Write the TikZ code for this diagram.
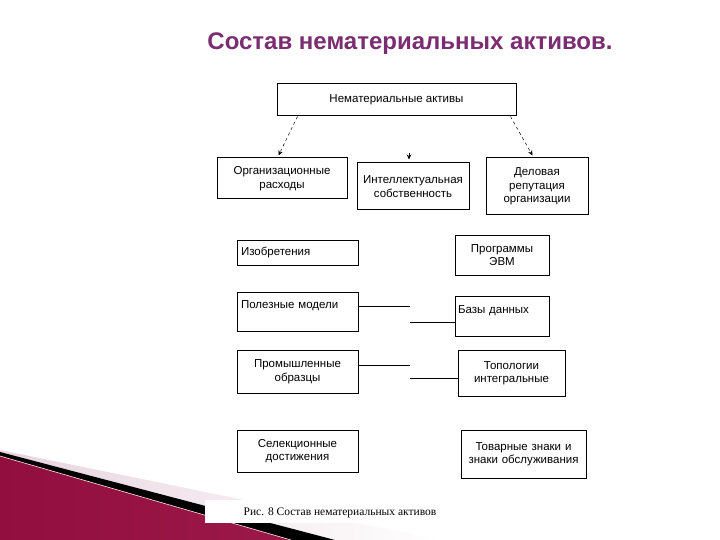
\documentclass[tikz,border=0pt]{standalone}
\usepackage{fontspec}
\setmainfont{Liberation Sans}
\newfontfamily\capfont{Liberation Serif}
\usetikzlibrary{arrows.meta}
\definecolor{titlepurple}{RGB}{122,45,112}
\definecolor{maroondark}{RGB}{145,14,62}
\definecolor{maroonlight}{RGB}{212,84,128}
\definecolor{paleband}{RGB}{232,212,222}

\begin{document}
\begin{tikzpicture}[x=1pt, y=-1pt,
            box/.style={rectangle, draw, line width=1pt, inner sep=2pt, text centered, font=\fontsize{11.5}{13.5}\selectfont},
            arrow/.style={-{Stealth[length=5pt,width=4.5pt]}, dashed, line width=0.5pt},
            link/.style={line width=0.7pt}
            ]
            \useasboundingbox (0,0) rectangle (720,540);
            \fill[white] (0,0) rectangle (720,540);
            
            % Decoration at the bottom left
            \shade[left color=paleband, right color=white] (0,450) -- (440,540) -- (0,540) -- cycle;
            \fill[black] (0,452) -- (335,540) -- (0,540) -- cycle;
            \shade[left color=maroondark, middle color=maroonlight, right color=maroondark!85!maroonlight] (0,456) -- (291,540) -- (0,540) -- cycle;
            \draw[pink!40, line width=0.6pt] (0,456) -- (291,540);
            
            % Title
            \node[font=\fontsize{24}{28}\selectfont\bfseries, text=titlepurple] (title) at (410,44) {Состав нематериальных активов.};
            
            % Main variable
            \node[box, minimum width=239pt, minimum height=32pt] (nma) at (396.5,100) {Нематериальные активы};
            
            % Second level
            \node[box, minimum width=130pt, minimum height=41pt, text width=126pt] (org) at (282,178.5) {Организационные\\расходы};
            \node[box, minimum width=112pt, minimum height=47pt, text width=108pt] (ip) at (413,186.5) {Интеллектуальная\\собственность};
            \node[box, minimum width=102pt, minimum height=57pt, text width=98pt] (rep) at (537,186.5) {Деловая\\репутация\\организации};
            
            % Left column
            \node[box, minimum width=121pt, minimum height=25pt, text width=113pt, align=left] (inv) at (297.5,252.5) {Изобретения};
            \node[box, minimum width=121pt, minimum height=39pt, text width=113pt, align=left] (pm) at (297.5,311.5) {Полезные модели\\\mbox{}};
            \node[box, minimum width=121pt, minimum height=43pt, text width=117pt] (prom) at (297.5,371.5) {Промышленные\\образцы};
            \node[box, minimum width=121pt, minimum height=42pt, text width=117pt] (sel) at (297.5,451) {Селекционные\\достижения};
            
            % Right column
            \node[box, minimum width=94pt, minimum height=40pt, text width=90pt] (prog) at (502,255) {Программы\\ЭВМ};
            \node[box, minimum width=94pt, minimum height=40pt, text width=88pt, align=left] (bd) at (502,316) {Базы данных\\\mbox{}};
            \node[box, minimum width=107pt, minimum height=46pt, text width=103pt] (topo) at (511.5,373) {Топологии\\интегральные};
            \node[box, minimum width=123pt, minimum height=48pt, text width=121pt] (tov) at (523.5,454) {Товарные знаки и\\знаки обслуживания};
            
            % Arrows
            \draw[arrow] ([shift={(21,0)}]nma.south west) -- ([shift={(62,-2)}]org.north west);
            \draw[arrow] ([shift={(-6,0)}]nma.south east) -- ([shift={(47,-2)}]rep.north west);
            \draw[arrow, solid] ([shift={(-4,-9)}]ip.north) -- ([shift={(-4,-3)}]ip.north);
            
            % Links between columns
            \coordinate (j1) at (410,306);
            \coordinate (j2) at (410,322);
            \coordinate (j3) at (410,365);
            \coordinate (j4) at (410,378);
            \draw[link] (pm.east |- j1) -- (j1);
            \draw[link] (j2) -- (j2 -| bd.west);
            \draw[link] (prom.east |- j3) -- (j3);
            \draw[link] (j4) -- (j4 -| topo.west);
            
            % Caption
            \fill[white] (205,500) rectangle (470,523);
            \node[font=\capfont\fontsize{11.5}{13}\selectfont] (caption) at (340,513) {Рис. 8 Состав нематериальных активов};
            
        \end{tikzpicture}
\end{document}
